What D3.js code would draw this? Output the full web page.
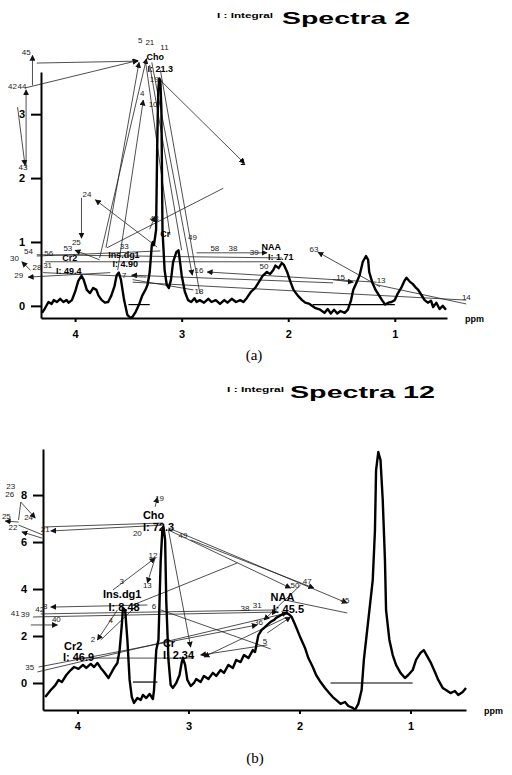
<!DOCTYPE html>
<html>
<head>
<meta charset="utf-8">
<script src="https://cdn.jsdelivr.net/npm/d3@7"></script>
<style>
  body { margin: 0; background: #fff; }
  svg { display: block; font-family: "Liberation Sans", Arial, sans-serif; }
</style>
</head>
<body>
<div id="chart"></div>
<script>
// spectrum a: [ppm, intensity]
const spectrumA = [
  [4.31,-0.11],[4.28,-0.03],[4.25,0.06],[4.22,0.03],[4.20,0.09],[4.17,0.06],[4.14,0.11],[4.11,0.06],
  [4.08,0.09],[4.06,0.05],[4.03,0.09],[4.00,0.22],[3.97,0.39],[3.94,0.47],[3.92,0.41],[3.89,0.25],
  [3.86,0.20],[3.83,0.28],[3.80,0.25],[3.78,0.16],[3.75,0.09],[3.72,0.05],[3.69,0.06],[3.66,0.16],
  [3.63,0.31],[3.61,0.48],[3.59,0.52],[3.57,0.41],[3.54,0.09],[3.51,-0.14],[3.48,-0.19],[3.46,-0.17],
  [3.43,-0.09],[3.40,0.02],[3.37,0.16],[3.34,0.25],[3.32,0.33],[3.30,0.53],[3.28,0.95],[3.27,1.0],
  [3.26,0.95],[3.24,1.19],[3.23,2.44],[3.22,3.37],[3.21,3.56],[3.20,3.53],[3.19,3.06],[3.185,2.13],
  [3.18,1.19],[3.16,0.56],[3.14,0.33],[3.12,0.28],[3.10,0.41],[3.08,0.69],[3.05,0.84],[3.03,0.87],
  [3.02,0.75],[3.00,0.48],[2.97,0.22],[2.94,0.09],[2.91,0.06],[2.88,0.12],[2.86,0.06],[2.83,0.09],
  [2.79,0.05],[2.75,0.11],[2.72,0.06],[2.68,0.09],[2.64,0.03],[2.60,0.09],[2.57,0.05],[2.53,0.11],
  [2.49,0.06],[2.45,0.09],[2.42,0.06],[2.39,0.12],[2.35,0.22],[2.31,0.28],[2.28,0.36],[2.24,0.47],
  [2.20,0.53],[2.17,0.50],[2.14,0.56],[2.12,0.63],[2.09,0.59],[2.06,0.67],[2.04,0.64],[2.01,0.53],
  [1.98,0.38],[1.95,0.25],[1.91,0.16],[1.87,0.09],[1.84,0.05],[1.80,0.03],[1.75,-0.03],[1.70,-0.06],
  [1.66,-0.11],[1.63,-0.05],[1.60,-0.12],[1.57,-0.06],[1.54,-0.12],[1.51,-0.08],[1.47,-0.11],[1.44,-0.06],
  [1.41,0.09],[1.39,0.25],[1.36,0.36],[1.33,0.48],[1.30,0.69],[1.27,0.78],[1.25,0.72],[1.24,0.53],
  [1.21,0.36],[1.18,0.25],[1.15,0.17],[1.12,0.09],[1.09,0.02],[1.06,0.05],[1.03,0.06],[1.00,0.09],
  [0.97,0.20],[0.94,0.28],[0.91,0.39],[0.89,0.44],[0.86,0.38],[0.83,0.34],[0.80,0.28],[0.78,0.25],
  [0.75,0.17],[0.72,0.09],[0.69,0.05],[0.66,0.08],[0.64,-0.02],[0.61,0.05],[0.58,-0.05],[0.55,0.0],
  [0.52,-0.06]
];

// spectrum b: [ppm, intensity]
const spectrumB = [
  [4.29,-0.6],[4.24,-0.3],[4.20,-0.1],[4.17,0.13],[4.14,0.04],[4.10,0.34],[4.06,0.55],[4.03,0.68],
  [3.99,0.6],[3.95,0.77],[3.92,0.64],[3.88,0.81],[3.85,0.68],[3.82,0.85],[3.79,0.64],[3.76,0.47],
  [3.72,0.21],[3.69,0.47],[3.67,0.64],[3.64,0.85],[3.62,1.4],[3.60,2.47],[3.59,3.19],[3.57,3.1],
  [3.55,1.83],[3.53,0.13],[3.51,-0.6],[3.49,-0.85],[3.46,-0.64],[3.43,-0.72],[3.41,-0.51],[3.38,-0.64],
  [3.35,-0.47],[3.32,-0.68],[3.31,-0.3],[3.29,1.4],[3.27,1.83],[3.26,3.53],[3.25,5.2],[3.235,6.5],
  [3.225,6.64],[3.21,6.09],[3.20,3.53],[3.18,0.98],[3.16,-0.09],[3.14,-0.21],[3.11,0.0],[3.08,0.34],
  [3.06,0.89],[3.05,1.06],[3.03,0.77],[3.01,0.13],[2.98,-0.13],[2.95,0.0],[2.93,0.17],[2.89,0.04],
  [2.86,0.3],[2.82,0.17],[2.78,0.43],[2.75,0.3],[2.71,0.55],[2.68,0.43],[2.64,0.77],[2.60,0.64],
  [2.57,0.98],[2.53,0.89],[2.50,1.19],[2.46,1.06],[2.42,1.4],[2.40,1.32],[2.37,2.04],[2.34,2.26],
  [2.32,2.34],[2.29,2.47],[2.26,2.6],[2.23,2.68],[2.21,2.77],[2.18,2.85],[2.15,2.94],[2.13,2.98],
  [2.10,2.94],[2.07,2.81],[2.05,2.6],[2.02,2.26],[1.99,1.91],[1.95,1.49],[1.92,1.06],[1.88,0.68],
  [1.85,0.34],[1.81,0.04],[1.77,-0.21],[1.74,-0.38],[1.70,-0.6],[1.67,-0.72],[1.63,-0.89],[1.59,-0.81],
  [1.56,-0.98],[1.52,-1.06],[1.50,-1.15],[1.47,-0.89],[1.44,-0.3],[1.42,0.98],[1.40,1.83],[1.37,3.1],
  [1.34,4.38],[1.32,6.5],[1.31,9.06],[1.29,9.83],[1.27,9.49],[1.25,7.79],[1.23,5.23],[1.22,3.1],
  [1.19,1.83],[1.16,1.19],[1.13,0.77],[1.09,0.43],[1.05,0.21],[1.02,0.34],[0.98,0.55],[0.95,0.98],
  [0.91,1.28],[0.88,1.4],[0.86,1.23],[0.82,0.89],[0.78,0.47],[0.75,0.13],[0.71,-0.21],[0.68,-0.3],
  [0.64,-0.43],[0.60,-0.34],[0.57,-0.51],[0.53,-0.38],[0.50,-0.21]
];

// integral baselines [ppm1, ppm2, level]
const baselinesA = [[3.50, 3.30, 0.02], [1.77, 1.0, 0.02]];
const baselinesB = [[3.50, 3.28, 0.04], [1.72, 0.98, 0.0]];

const xTicksA = [4, 3, 2, 1];
const yTicksA = [0, 1, 2, 3];
const xTicksB = [4, 3, 2, 1];
const yTicksB = [0, 2, 4, 6, 8];

// annotation arrows [ppm1, y1, ppm2, y2, arrowhead at end]
const arrowsA = [
  [4.36,3.80,3.41,3.83,1],[4.47,3.41,3.41,3.84,1],[4.40,3.45,4.40,3.92,1],[4.46,2.16,4.46,3.38,1],
  [4.54,3.11,4.47,2.20,1],[3.20,3.53,2.41,2.23,1],[3.71,0.91,3.40,3.81,1],[3.60,0.56,3.36,3.22,1],
  [3.77,0.75,3.33,3.87,1],[3.30,3.77,3.00,0.87,0],[3.28,3.81,2.90,0.48,1],[3.20,3.69,2.83,0.20,0],
  [3.34,3.84,3.11,1.11,0],[3.94,1.69,3.94,1.06,1],[3.23,0.92,3.81,1.66,1],[2.61,1.84,3.70,0.91,0],
  [4.36,0.80,2.06,0.75,0],[4.36,0.78,3.20,0.86,0],[2.86,0.83,2.20,0.83,1],[1.14,0.30,1.72,0.84,1],
  [0.33,0.09,3.46,0.37,0],[0.33,0.03,1.17,0.33,0],[1.58,0.41,1.39,0.37,1],[1.17,0.37,2.76,0.53,1],
  [1.58,0.36,3.47,0.48,1],[3.67,0.52,4.44,0.45,1],[4.30,0.52,3.33,0.45,0],[3.77,0.72,4.00,0.87,1],
  [3.46,0.41,2.89,0.25,0],[4.42,0.56,4.50,0.69,1],[4.28,0.69,2.06,0.69,0],[3.30,1.20,3.25,1.40,1]
];

const arrowsB = [
  [3.23,6.72,4.24,6.47,1],[3.23,6.81,4.31,6.64,0],[3.18,6.6,1.57,3.4,1],[3.18,6.51,2.08,4.04,1],
  [2.98,6.09,1.87,4.04,1],[3.18,6.51,2.98,1.53,1],[1.57,2.98,2.13,3.53,0],[2.56,5.11,3.50,3.32,0],
  [3.68,3.96,3.30,5.32,1],[3.30,5.32,3.37,4.26,1],[3.37,3.32,4.24,3.23,1],[4.40,2.81,2.20,3.02,1],
  [4.33,2.94,2.20,3.11,0],[4.42,2.47,4.18,2.47,1],[3.64,3.11,3.82,1.83,1],[3.46,3.32,3.79,1.83,0],
  [4.36,0.47,2.11,2.98,1],[4.35,0.68,2.38,2.47,1],[3.25,3.11,2.26,1.45,0],[2.29,1.62,2.89,1.19,1],
  [2.11,2.81,2.86,1.11,1],[4.04,1.06,2.95,1.06,0],[2.29,2.13,2.08,2.81,1],[4.51,7.70,4.38,7.02,1],
  [4.51,7.70,4.53,6.94,0],[4.53,6.85,4.65,6.89,1],[4.53,6.72,4.31,6.30,0],[4.32,6.17,4.50,6.43,1],
  [1.99,4.17,2.32,2.68,1],[3.30,7.50,3.28,7.90,1]
];

// annotation labels [ppm, y, text, bold]
const labelsA = [
  [3.41,4.11,"5",0],[3.34,4.08,"21",0],[3.20,4.00,"11",0],[3.33,3.85,"Cho",1],[3.32,3.66,"I: 21.3",1],
  [3.30,3.50,"19",0],[4.50,3.92,"45",0],[4.63,3.39,"42",0],[4.54,3.39,"44",0],[4.53,2.13,"43",0],
  [3.39,3.28,"4",0],[3.31,3.11,"10",0],[2.45,2.20,"1",1],[3.93,1.70,"24",0],[4.03,0.95,"25",0],
  [4.11,0.86,"53",0],[3.58,0.89,"33",0],[4.48,0.81,"54",0],[4.29,0.78,"56",0],[4.61,0.70,"30",0],
  [4.40,0.56,"28",0],[4.30,0.59,"31",0],[4.57,0.44,"29",0],[3.56,0.44,"7",0],[3.30,1.33,"48",0],
  [2.94,1.03,"49",0],[3.20,1.08,"Cr",1],[2.73,0.86,"58",0],[2.56,0.86,"38",0],[2.36,0.80,"39",0],
  [2.25,0.875,"NAA",1],[2.19,0.72,"I: 1.71",1],[2.27,0.57,"50",0],[1.80,0.84,"63",0],[1.55,0.41,"15",0],
  [1.17,0.36,"13",0],[0.37,0.09,"14",0],[2.88,0.52,"16",0],[2.88,0.19,"18",0],[3.69,0.75,"Ins.dg1",1],
  [3.65,0.61,"I: 4.90",1],[4.12,0.70,"Cr2",1],[4.18,0.50,"I: 49.4",1]
];

const labelsB = [
  [3.41,6.96,"Cho",1],[3.41,6.45,"I: 72.3",1],[3.30,7.74,"19",0],[3.50,6.25,"20",0],[4.64,8.27,"23",0],
  [4.65,7.90,"26",0],[4.68,6.98,"25",0],[4.62,6.51,"22",0],[4.33,6.43,"21",0],[4.48,6.94,"24",0],
  [3.09,6.17,"49",0],[3.36,5.32,"12",0],[3.41,4.04,"13",0],[3.77,3.62,"Ins.dg1",1],[3.72,3.08,"I: 8.48",1],
  [3.62,4.20,"3",0],[3.33,3.15,"6",0],[4.31,3.15,"8",0],[4.38,3.02,"42",0],[4.60,2.85,"41",0],
  [4.51,2.81,"39",0],[4.23,2.60,"40",0],[3.72,2.55,"4",0],[3.88,1.74,"2",0],[4.12,1.42,"Cr2",1],
  [4.13,0.95,"I: 46.9",1],[4.47,0.55,"35",0],[3.23,1.52,"Cr",1],[3.23,1.02,"I: 2.34",1],[2.53,3.06,"38",0],
  [2.42,3.19,"31",0],[2.26,3.48,"NAA",1],[2.24,2.97,"I: 45.5",1],[2.41,2.47,"36",0],[2.33,1.66,"5",0],
  [1.97,4.21,"47",0],[2.08,4.04,"50",0],[1.63,3.40,"45",0]
];

const width = 512, height = 775;
const svg = d3.select("#chart").append("svg")
  .attr("width", width).attr("height", height);

svg.append("defs").append("marker")
  .attr("id", "head")
  .attr("viewBox", "0 0 10 10")
  .attr("refX", 9).attr("refY", 5)
  .attr("markerWidth", 6).attr("markerHeight", 6)
  .attr("markerUnits", "userSpaceOnUse")
  .attr("orient", "auto")
  .append("path").attr("d", "M0,0L10,5L0,10z").attr("fill", "#111");

function drawPanel(cfg) {
  const x = d3.scaleLinear().domain(cfg.xDomain).range(cfg.xRange);
  const y = d3.scaleLinear().domain(cfg.yDomain).range(cfg.yRange);
  const g = svg.append("g");

  // title
  g.append("text")
    .attr("x", cfg.title.x).attr("y", cfg.title.y)
    .attr("textLength", cfg.title.len).attr("lengthAdjust", "spacingAndGlyphs")
    .style("font-size", "17px").style("font-weight", "bold")
    .text(cfg.title.text);
  g.append("text")
    .attr("x", cfg.title.sx).attr("y", cfg.title.y - 6)
    .attr("textLength", cfg.title.slen).attr("lengthAdjust", "spacingAndGlyphs")
    .style("font-size", "8px").style("font-weight", "bold")
    .text("I : Integral");

  // axes
  const yAxis = d3.axisLeft(y).tickValues(cfg.yTicks).tickFormat(d3.format("d"))
    .tickSize(10).tickSizeOuter(0).tickPadding(6);
  const xAxis = d3.axisBottom(x).tickValues(cfg.xTicks).tickFormat(d3.format("d"))
    .tickSize(4).tickSizeOuter(0).tickPadding(8);

  const ya = g.append("g")
    .attr("transform", "translate(" + cfg.xRange[0] + ",0)")
    .call(yAxis);
  const xa = g.append("g")
    .attr("transform", "translate(0," + cfg.yRange[0] + ")")
    .call(xAxis);
  [ya, xa].forEach(a => {
    a.attr("font-family", "Liberation Sans, Arial, sans-serif");
    a.select(".domain").attr("stroke-width", 2).attr("stroke", "#000");
    a.selectAll(".tick line").attr("stroke-width", 2).attr("stroke", "#000");
    a.selectAll(".tick text").style("font-size", "11px").style("font-weight", "bold").attr("fill", "#000");
  });

  g.append("text")
    .attr("x", cfg.xRange[1] + 18).attr("y", cfg.yRange[0] + 4)
    .style("font-size", "9px").style("font-weight", "bold")
    .text("ppm");

  // integral baselines
  g.selectAll(".base").data(cfg.baselines).join("line")
    .attr("x1", d => x(d[0])).attr("x2", d => x(d[1]))
    .attr("y1", d => y(d[2])).attr("y2", d => y(d[2]))
    .attr("stroke", "#000").attr("stroke-width", 1.2);

  // annotation arrows
  g.selectAll(".arr").data(cfg.arrows).join("line")
    .attr("x1", d => x(d[0])).attr("y1", d => y(d[1]))
    .attr("x2", d => x(d[2])).attr("y2", d => y(d[3]))
    .attr("stroke", "#222").attr("stroke-width", 0.8)
    .attr("marker-end", d => d[4] ? "url(#head)" : null);

  // spectrum
  const line = d3.line().x(d => x(d[0])).y(d => y(d[1]));
  g.append("path")
    .datum(cfg.spectrum)
    .attr("d", line)
    .attr("fill", "none")
    .attr("stroke", "#000")
    .attr("stroke-width", 2.4)
    .attr("stroke-linejoin", "round");

  // labels
  g.selectAll(".lab").data(cfg.labels).join("text")
    .attr("x", d => x(d[0])).attr("y", d => y(d[1]))
    .style("font-size", d => d[3] ? cfg.boldSize : "8px")
    .style("font-weight", d => d[3] ? "bold" : "normal")
    .attr("fill", d => d[3] ? "#000" : "#222")
    .text(d => d[2]);
}

drawPanel({
  xDomain: [4.32, 0.51], xRange: [41, 447],
  yDomain: [-0.19, 3.66], yRange: [318, 72],
  xTicks: xTicksA, yTicks: yTicksA,
  spectrum: spectrumA, baselines: baselinesA,
  arrows: arrowsA, labels: labelsA, boldSize: "9px",
  title: { text: "Spectra 2", x: 282, y: 24, len: 128, sx: 217, slen: 56 }
});

drawPanel({
  xDomain: [4.31, 0.50], xRange: [43, 466],
  yDomain: [-1.15, 9.96], yRange: [710, 449],
  xTicks: xTicksB, yTicks: yTicksB,
  spectrum: spectrumB, baselines: baselinesB,
  arrows: arrowsB, labels: labelsB, boldSize: "11px",
  title: { text: "Spectra 12", x: 290, y: 398, len: 145, sx: 227, slen: 57 }
});

svg.append("text").attr("x", 254).attr("y", 360).attr("text-anchor", "middle")
  .style("font-family", "'Liberation Serif', 'Times New Roman', serif").style("font-size", "15px")
  .text("(a)");
svg.append("text").attr("x", 255).attr("y", 763).attr("text-anchor", "middle")
  .style("font-family", "'Liberation Serif', 'Times New Roman', serif").style("font-size", "15px")
  .text("(b)");
</script>
</body>
</html>
